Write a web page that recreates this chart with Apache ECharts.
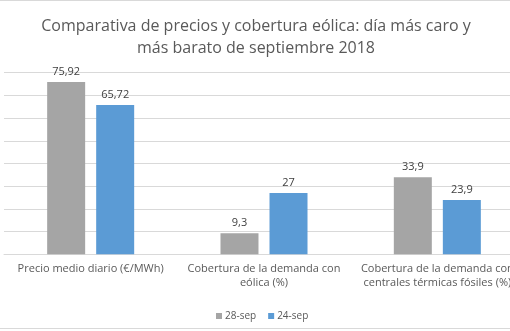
<!DOCTYPE html>
<html><head><meta charset="utf-8">
<script src="https://cdn.jsdelivr.net/npm/echarts@6/dist/echarts.min.js"></script>
<style>html,body{margin:0;padding:0;background:#fff;overflow:hidden}#c{width:524px;height:331px}</style>
</head><body><div id="c"></div>
<script>
const categories = ["Precio medio diario (€/MWh)", "Cobertura de la demanda con\neólica (%)", "Cobertura de la demanda con\ncentrales térmicas fósiles (%)"];
const seriesNames = ["28-sep", "24-sep"];
const sep28 = [75.92, 9.3, 33.9];
const sep24 = [65.72, 27, 23.9];
const titleText = "Comparativa de precios y cobertura eólica: día más caro y\nmás barato de septiembre 2018";

const chart = echarts.init(document.getElementById('c'), null, {renderer: 'canvas'});
const fmt = p => String(p.value).replace('.', ',');
const FONT = 'Open Sans';
chart.setOption({
  animation: false,
  title: {
    text: titleText, left: 251, textAlign: 'center', top: 10,
    textStyle: {fontFamily: FONT, fontSize: 16, fontWeight: 'normal', color: '#595959', lineHeight: 22}
  },
  legend: {
    data: seriesNames, top: 306, left: 211, itemWidth: 6, itemHeight: 6, itemGap: 12,
    icon: 'rect',
    textStyle: {fontFamily: FONT, fontSize: 10, color: '#595959', padding: [0, 0, 0, -2]}
  },
  grid: {left: 4, right: 0, top: 72.7, bottom: 76.7},
  xAxis: {
    type: 'category', data: categories,
    axisLine: {lineStyle: {color: '#d9d9d9'}},
    axisTick: {show: false},
    axisLabel: {fontFamily: FONT, fontSize: 11, color: '#595959', lineHeight: 14, margin: 8, interval: 0}
  },
  yAxis: {
    type: 'value', min: 0, max: 80, interval: 10,
    axisLabel: {show: false}, axisLine: {show: false}, axisTick: {show: false},
    splitLine: {lineStyle: {color: '#d9d9d9'}}
  },
  series: [
    {name: seriesNames[0], type: 'bar', data: sep28, barWidth: 38, barGap: '29%',
     itemStyle: {color: '#a5a5a5'},
     label: {show: true, position: 'top', formatter: fmt, fontFamily: FONT, fontSize: 11, color: '#404040', distance: 5}},
    {name: seriesNames[1], type: 'bar', data: sep24, barWidth: 38, barGap: '29%',
     itemStyle: {color: '#5b9bd5'},
     label: {show: true, position: 'top', formatter: fmt, fontFamily: FONT, fontSize: 11, color: '#404040', distance: 5}}
  ],
  graphic: [
    {type: 'line', shape: {x1: 0, y1: 0.5, x2: 524, y2: 0.5}, style: {stroke: '#d9d9d9', lineWidth: 1}},
    {type: 'line', shape: {x1: 0, y1: 328.5, x2: 524, y2: 328.5}, style: {stroke: '#d9d9d9', lineWidth: 1}}
  ]
});
</script></body></html>
